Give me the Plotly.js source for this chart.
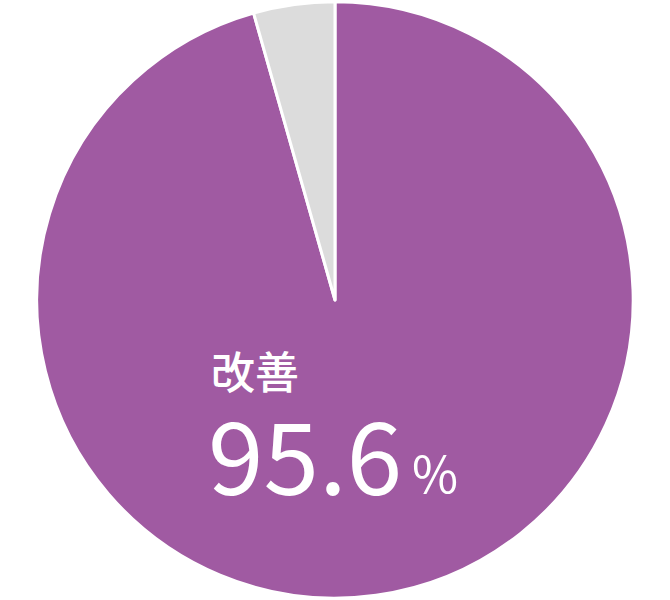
<!DOCTYPE html>
<html>
<head>
<meta charset="utf-8">
<script src="https://cdn.plot.ly/plotly-3.0.1.min.js"></script>
<style>
  html, body { margin: 0; padding: 0; background: #fff; }
  #chart { width: 670px; height: 600px; }
</style>
</head>
<body>
<div id="chart"></div>
<script>
// 改善の割合
const labels = ['改善', 'その他'];
const values = [95.6, 4.4];
const colors = ['#a05aa2', '#dcdcdc'];

const FONT = '"Noto Sans CJK JP", "Noto Sans", sans-serif';

const trace = {
  type: 'pie',
  labels, values,
  sort: false,
  direction: 'clockwise',
  rotation: 0,
  hole: 0,
  marker: { colors, line: { color: '#ffffff', width: 3 } },
  textinfo: 'none',
  hoverinfo: 'skip',
  showlegend: false,
  domain: { x: [0.05, 0.95], y: [0.003, 0.997] },
};

const layout = {
  width: 670, height: 600,
  margin: { t: 0, b: 0, l: 0, r: 0 },
  paper_bgcolor: '#ffffff',
  annotations: [
    {
      text: labels[0], xref: 'paper', yref: 'paper',
      x: 209 / 670, y: 1 - 370 / 600, xanchor: 'left', yanchor: 'middle',
      showarrow: false,
      font: { family: FONT, size: 44, color: '#ffffff', weight: 500 },
    },
    {
      text: values[0].toFixed(1), xref: 'paper', yref: 'paper',
      x: 206 / 670, y: 1 - 451 / 600, xanchor: 'left', yanchor: 'middle',
      showarrow: false,
      font: { family: FONT, size: 100, color: '#ffffff' },
    },
    {
      text: '%', xref: 'paper', yref: 'paper',
      x: 410 / 670, y: 1 - 471 / 600, xanchor: 'left', yanchor: 'middle',
      showarrow: false,
      font: { family: FONT, size: 50, color: '#ffffff' },
    },
  ],
};

Plotly.newPlot('chart', [trace], layout, { displayModeBar: false, staticPlot: true });
</script>
</body>
</html>
